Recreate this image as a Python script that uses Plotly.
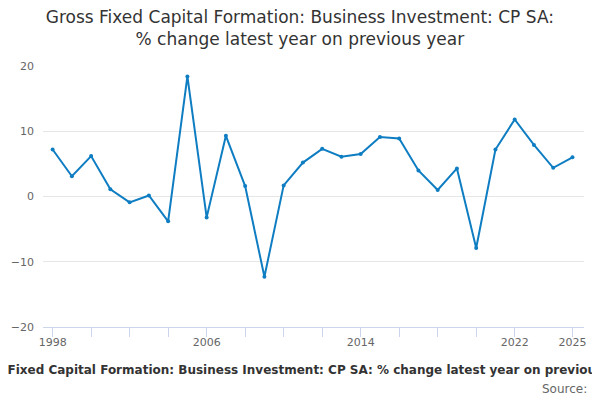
import plotly.graph_objects as go

# % change latest year on previous year
years = list(range(1998, 2026))
values = [7.2, 3.1, 6.2, 1.1, -0.9, 0.15, -3.8, 18.4, -3.2, 9.3, 1.6, -12.3, 1.7,
          5.2, 7.3, 6.1, 6.5, 9.1, 8.9, 4.0, 1.0, 4.3, -7.9, 7.2, 11.8, 7.9, 4.4, 6.0]

tick_years = list(range(1998, 2023, 2)) + [2025]
labelled = {1998, 2006, 2014, 2022, 2025}
tick_text = [str(y) if y in labelled else "" for y in tick_years]

title = "Gross Fixed Capital Formation: Business Investment: CP SA: % change latest year on previous year"

fig = go.Figure()
fig.add_trace(go.Scatter(
    x=years, y=values, mode="lines+markers",
    line=dict(color="#0f7dc2", width=2),
    marker=dict(size=4, color="#0f7dc2"),
    hovertemplate="%{x}: %{y}%<extra></extra>",
))

# the page body has an 8px margin, so the figure is sized to fit what is left
fig.update_layout(
    width=592, height=392,
    margin=dict(l=35, r=16, t=58, b=73),
    paper_bgcolor="white", plot_bgcolor="white",
    font=dict(family="DejaVu Sans", color="#666666", size=11),
    title=dict(text="Gross Fixed Capital Formation: Business Investment: CP SA:<br>% change latest year on previous year",
               x=0.493, xanchor="center", y=0.962, yanchor="top",
               font=dict(size=17, color="#333333")),
    showlegend=False,
    annotations=[
        dict(text="<b>" + title + "</b>", xref="paper", yref="paper", x=0.477, y=-0.165,
             xanchor="center", yanchor="middle", showarrow=False,
             font=dict(size=12, color="#333333")),
        dict(text="Source:", xref="paper", yref="paper", x=1.009, y=-0.2375,
             xanchor="right", yanchor="middle", showarrow=False,
             font=dict(size=12, color="#666666")),
    ],
)
fig.update_xaxes(
    range=[1997.5, 2025.6], tickvals=tick_years, ticktext=tick_text,
    ticks="outside", ticklen=9, tickcolor="#ccd6eb", showgrid=False,
    showline=True, linecolor="#ccd6eb", zeroline=False, ticklabelstandoff=-4,
    automargin=False,
)
fig.update_yaxes(
    range=[-20, 20], dtick=10, showgrid=True, gridcolor="#e6e6e6",
    zeroline=False, ticks="", ticklabelstandoff=8, automargin=False,
)

fig.write_html("out.html")
